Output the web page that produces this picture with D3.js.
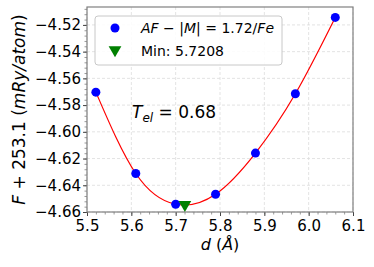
<!DOCTYPE html>
<html><head><meta charset="utf-8">
<script src="https://cdn.jsdelivr.net/npm/d3@7"></script>
<style>
body{margin:0;background:#fff;}
text{font-family:"DejaVu Sans",sans-serif;}
</style></head>
<body><svg id="c" width="374" height="267"></svg>
<script>
const dValues = [5.52, 5.61, 5.70, 5.79, 5.88, 5.97, 6.06];
const fValues = [-4.5703, -4.6312, -4.6542, -4.6467, -4.6159, -4.5715, -4.5144];
const minD = [5.7208];
const minF = [-4.6545];
const xTicks = [5.5, 5.6, 5.7, 5.8, 5.9, 6.0, 6.1];
const yTicks = [-4.66, -4.64, -4.62, -4.60, -4.58, -4.56, -4.54, -4.52];
const legendLabels = ["AF − |M| = 1.72/Fe", "Min: 5.7208"];

const svg = d3.select("#c");
const L = 87, R = 353, T = 7, B = 212;
const x = d3.scaleLinear().domain([5.5, 6.1]).range([L, R]);
const y = d3.scaleLinear().domain([-4.66, -4.5066]).range([B, T]);

// grid
const g = svg.append("g");
g.selectAll(".gx").data(xTicks).join("line")
  .attr("x1", d => x(d)).attr("x2", d => x(d)).attr("y1", T).attr("y2", B)
  .attr("stroke", "#dcdcdc").attr("stroke-width", 0.8).attr("stroke-dasharray", "3,2");
g.selectAll(".gy").data(yTicks).join("line")
  .attr("x1", L).attr("x2", R).attr("y1", d => y(d)).attr("y2", d => y(d))
  .attr("stroke", "#dcdcdc").attr("stroke-width", 0.8).attr("stroke-dasharray", "3,2");

// minor ticks
const xMinor = d3.range(5.5, 6.1001, 0.02);
const yMinor = d3.range(-4.66, -4.5066, 0.004);
svg.append("g").attr("transform", `translate(0,${B})`)
  .call(d3.axisBottom(x).tickValues(xMinor).tickSize(2.5).tickFormat(""))
  .call(a => a.select(".domain").remove())
  .call(a => a.selectAll("line").attr("stroke", "#555").attr("stroke-width", 0.6));
svg.append("g").attr("transform", `translate(${L},0)`)
  .call(d3.axisLeft(y).tickValues(yMinor).tickSize(2.5).tickFormat(""))
  .call(a => a.select(".domain").remove())
  .call(a => a.selectAll("line").attr("stroke", "#555").attr("stroke-width", 0.6));

// major axes
const fmtX = d3.format(".1f");
const fmtY = d => d3.format(".2f")(d).replace("-", "−");
svg.append("g").attr("transform", `translate(0,${B})`)
  .call(d3.axisBottom(x).tickValues(xTicks).tickSize(4).tickPadding(4).tickFormat(fmtX))
  .call(a => a.select(".domain").remove())
  .call(a => a.selectAll("line").attr("stroke", "#444"))
  .call(a => a.selectAll("text").attr("font-size", 15).attr("fill", "#000").attr("font-family", "DejaVu Sans"));
svg.append("g").attr("transform", `translate(${L},0)`)
  .call(d3.axisLeft(y).tickValues(yTicks).tickSize(4).tickPadding(2).tickFormat(fmtY))
  .call(a => a.select(".domain").remove())
  .call(a => a.selectAll("line").attr("stroke", "#444"))
  .call(a => a.selectAll("text").attr("font-size", 15).attr("fill", "#000").attr("font-family", "DejaVu Sans"));

// frame
svg.append("rect").attr("x", L).attr("y", T).attr("width", R - L).attr("height", B - T)
  .attr("fill", "none").attr("stroke", "#808080").attr("stroke-width", 1.2);

// fit curve
const pts = dValues.map((d, i) => [d, fValues[i]]);
svg.append("path").datum(pts)
  .attr("d", d3.line().x(d => x(d[0])).y(d => y(d[1])).curve(d3.curveNatural))
  .attr("fill", "none").attr("stroke", "red").attr("stroke-width", 1.2);

// points
svg.selectAll(".pt").data(pts).join("circle")
  .attr("cx", d => x(d[0])).attr("cy", d => y(d[1])).attr("r", 4.5).attr("fill", "#0000ff");

// min marker
const tri = d3.symbol().type(d3.symbolTriangle).size(70);
svg.selectAll(".mn").data(minD.map((d, i) => [d, minF[i]])).join("path")
  .attr("d", tri).attr("transform", d => `translate(${x(d[0])},${y(d[1])}) rotate(180)`)
  .attr("fill", "#008000");

// T_el text
const te = svg.append("text").attr("x", 132).attr("y", 118).attr("font-size", 17);
te.append("tspan").attr("font-style", "italic").text("T");
te.append("tspan").attr("font-style", "italic").attr("font-size", 12).attr("dy", 4).text("el");
te.append("tspan").attr("dy", -4).text(" = 0.68");

// legend
const lg = svg.append("g");
lg.append("rect").attr("x", 95).attr("y", 16).attr("width", 187).attr("height", 49).attr("rx", 3)
  .attr("fill", "#fff").attr("fill-opacity", 0.85).attr("stroke", "#c8c8c8").attr("stroke-width", 1);
lg.append("circle").attr("cx", 115).attr("cy", 28).attr("r", 4.5).attr("fill", "#0000ff");
lg.append("path").attr("d", tri).attr("transform", "translate(115,50) rotate(180)").attr("fill", "#008000");
const l1 = lg.append("text").attr("x", 141).attr("y", 33).attr("font-size", 14);
l1.append("tspan").attr("font-style", "italic").text("AF");
l1.append("tspan").text(" − |");
l1.append("tspan").attr("font-style", "italic").text("M");
l1.append("tspan").text("| = 1.72/");
l1.append("tspan").attr("font-style", "italic").text("Fe");
lg.append("text").attr("x", 141).attr("y", 56).attr("font-size", 14).text(legendLabels[1]);

// axis labels
const xl = svg.append("text").attr("x", (L + R) / 2).attr("y", 250).attr("text-anchor", "middle").attr("font-size", 16);
xl.append("tspan").attr("font-style", "italic").text("d");
xl.append("tspan").text(" (");
xl.append("tspan").attr("font-style", "italic").text("Å");
xl.append("tspan").text(")");
const yl = svg.append("text").attr("transform", `translate(25,${(T + B) / 2}) rotate(-90)`)
  .attr("text-anchor", "middle").attr("font-size", 17);
yl.append("tspan").attr("font-style", "italic").text("F");
yl.append("tspan").text(" + 253.1 (");
yl.append("tspan").attr("font-style", "italic").text("mRy/atom");
yl.append("tspan").text(")");
</script></body></html>
